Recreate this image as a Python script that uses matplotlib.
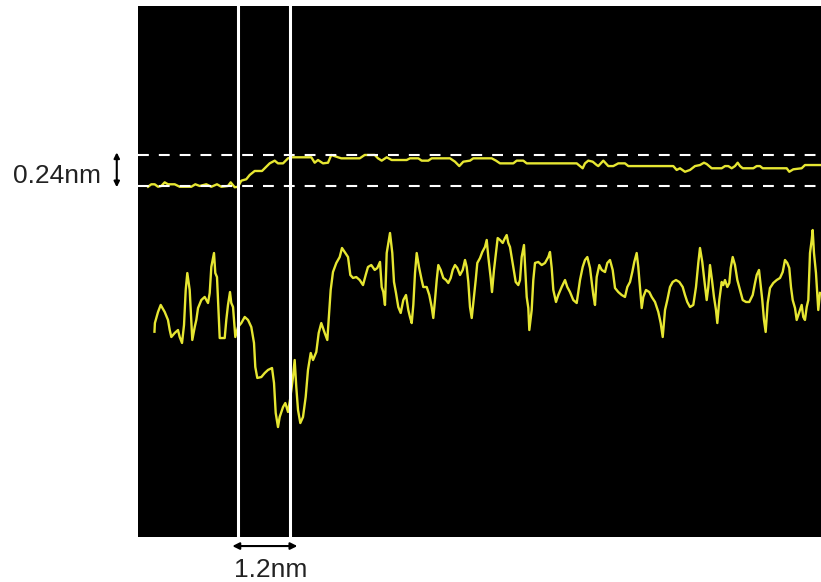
import numpy as np
import matplotlib.pyplot as plt

plt.rcParams['font.family'] = ['Liberation Sans', 'DejaVu Sans']

# surface profile (nm): lower trace = line scan, upper trace = height profile
scan_x = [0.38, 0.39, 0.462, 0.524, 0.616, 0.692, 0.732, 0.769, 0.847, 0.923, 0.962, 1.016, 1.062,
          1.101, 1.138, 1.193, 1.230, 1.253, 1.309, 1.346, 1.385, 1.461, 1.539, 1.616, 1.655, 1.692,
          1.754, 1.784, 1.823, 1.863, 1.886, 2.001, 2.038, 2.077, 2.123, 2.153, 2.193, 2.246, 2.308,
          2.384, 2.463, 2.539, 2.615, 2.677, 2.707, 2.753, 2.846, 2.924, 3.000, 3.093, 3.139, 3.178,
          3.231, 3.270, 3.347, 3.400, 3.462, 3.508, 3.577, 3.616, 3.653, 3.693, 3.746, 3.808, 3.870,
          3.923, 3.986, 4.039, 4.115, 4.170, 4.230, 4.309, 4.369, 4.401, 4.447, 4.500, 4.577, 4.655,
          4.708, 4.770, 4.847, 4.900, 4.962, 5.038, 5.117, 5.193, 5.255, 5.308, 5.384, 5.463, 5.523,
          5.585, 5.624, 5.661, 5.700, 5.740, 5.816, 5.869, 5.908, 5.954, 6.007, 6.063, 6.123, 6.185,
          6.238, 6.277, 6.317, 6.354, 6.393, 6.432, 6.485, 6.547, 6.584, 6.663, 6.723, 6.778, 6.815,
          6.854, 6.894, 6.931, 6.986, 7.046, 7.108, 7.161, 7.217, 7.263, 7.316, 7.369, 7.432, 7.494,
          7.547, 7.586, 7.623, 7.662, 7.702, 7.738, 7.794, 7.831, 7.893, 7.946, 8.008, 8.048, 8.085,
          8.140, 8.170, 8.216, 8.262, 8.301, 8.355, 8.417, 8.470, 8.509, 8.546, 8.585, 8.624, 8.661,
          8.717, 8.777, 8.816, 8.855, 8.908, 8.938, 8.971, 9.008, 9.031, 9.086, 9.123, 9.162, 9.238,
          9.317, 9.393, 9.469, 9.508, 9.548, 9.585, 9.647, 9.700, 9.778, 9.855, 9.908, 9.970, 10.046,
          10.125, 10.201, 10.263, 10.316, 10.370, 10.432, 10.508, 10.547, 10.586, 10.646, 10.702,
          10.778, 10.831, 10.893, 10.955, 11.009, 11.085, 11.163, 11.239, 11.293, 11.355, 11.408,
          11.454, 11.509, 11.546, 11.585, 11.625, 11.662, 11.724, 11.800, 11.856, 11.932, 12.008,
          12.063, 12.110, 12.163, 12.216, 12.278, 12.340, 12.416, 12.493, 12.571, 12.624, 12.677,
          12.740, 12.816, 12.878, 12.931, 12.970, 13.023, 13.070, 13.125, 13.162, 13.201, 13.247,
          13.293, 13.339, 13.370, 13.416, 13.471, 13.508, 13.547, 13.601, 13.647, 13.679, 13.725,
          13.778, 13.832, 13.894, 13.956, 14.032, 14.108, 14.187, 14.240, 14.279, 14.332, 14.371,
          14.408, 14.447, 14.486, 14.533, 14.586, 14.662, 14.740, 14.817, 14.879, 14.932, 14.985,
          15.031, 15.070, 15.110, 15.163, 15.202, 15.255, 15.317, 15.354, 15.393, 15.433, 15.470,
          15.509, 15.548, 15.571, 15.601, 15.647, 15.700, 15.739]
scan_y = [1.589, 1.656, 1.742, 1.796, 1.742, 1.680, 1.602, 1.548, 1.579, 1.602, 1.548, 1.502, 1.641,
          1.912, 2.043, 1.912, 1.680, 1.525, 1.625, 1.680, 1.772, 1.834, 1.858, 1.811, 1.889, 2.090,
          2.198, 2.043, 2.012, 1.703, 1.540, 1.540, 1.680, 1.796, 1.896, 1.811, 1.780, 1.548, 1.625,
          1.656, 1.703, 1.680, 1.625, 1.502, 1.316, 1.231, 1.238, 1.269, 1.293, 1.308, 1.192, 0.960,
          0.851, 0.929, 1.006, 1.037, 0.968, 1.060, 1.238, 1.370, 1.161, 0.983, 0.882, 0.929, 1.084,
          1.293, 1.424, 1.370, 1.432, 1.579, 1.656, 1.579, 1.525, 1.680, 1.912, 2.051, 2.121, 2.167,
          2.237, 2.206, 2.167, 2.028, 2.005, 2.012, 1.989, 1.950, 2.028, 2.090, 2.105, 2.067, 2.082,
          2.129, 1.935, 1.896, 1.796, 2.198, 2.353, 2.198, 1.974, 1.889, 1.780, 1.734, 1.834, 1.873,
          1.757, 1.703, 1.656, 1.796, 2.043, 2.198, 2.090, 1.989, 1.935, 1.935, 1.873, 1.780, 1.695,
          1.834, 1.989, 2.105, 2.067, 2.005, 1.989, 1.966, 2.005, 2.067, 2.105, 2.082, 2.028, 2.067,
          2.144, 2.090, 1.974, 1.780, 1.695, 1.811, 1.989, 2.121, 2.159, 2.206, 2.245, 2.299, 2.167,
          2.005, 1.896, 2.067, 2.198, 2.314, 2.299, 2.276, 2.314, 2.337, 2.276, 2.245, 2.167, 2.090,
          1.974, 1.950, 1.989, 2.167, 2.260, 2.067, 1.858, 1.772, 1.602, 1.757, 1.989, 2.121, 2.129,
          2.105, 2.121, 2.167, 2.206, 2.082, 1.912, 1.819, 1.873, 1.935, 1.989, 1.935, 1.896, 1.834,
          1.811, 1.989, 2.090, 2.144, 2.167, 2.082, 1.873, 1.796, 2.012, 2.105, 2.067,
          2.051, 2.121, 2.144, 2.067, 1.927, 1.896, 1.873, 1.858, 1.935, 1.974, 2.051,
          2.129, 2.198, 2.090, 1.935, 1.772, 1.858, 1.912, 1.896, 1.858, 1.819, 1.742,
          1.656, 1.548, 1.757, 1.834, 1.935, 1.974, 1.989, 1.974, 1.935, 1.873, 1.819,
          1.780, 1.796, 1.935, 2.121, 2.237, 2.129, 1.989, 1.834, 1.935, 2.105, 1.989,
          1.858, 1.757, 1.656, 1.834, 1.974, 1.950, 1.989, 1.935, 1.966, 2.082, 2.167,
          2.105, 1.989, 1.912, 1.834, 1.819, 1.819, 1.873, 1.966, 2.028, 2.067, 1.950,
          1.834, 1.680, 1.587, 1.811, 1.927, 1.966, 1.989, 2.005, 2.051, 2.144, 2.121,
          2.082, 1.935, 1.834, 1.772, 1.680, 1.734, 1.796, 1.703, 1.680, 1.780, 1.834,
          2.198, 2.299, 2.376, 2.198, 2.043, 1.757, 1.889]

step_x = [0.231, 0.307, 0.385, 0.462, 0.538, 0.616, 0.692, 0.847, 0.962, 1.230, 1.323, 1.424, 1.576,
          1.692, 1.823, 1.923, 2.077, 2.139, 2.232, 2.308, 2.384, 2.499, 2.578, 2.693, 2.862, 2.961,
          3.039, 3.155, 3.231, 3.347, 3.462, 3.538, 4.000, 4.078, 4.154, 4.270, 4.385, 4.461, 4.616,
          4.692, 5.117, 5.232, 5.463, 5.539, 5.624, 5.740, 5.855, 6.201, 6.277, 6.469, 6.547, 6.700,
          6.778, 7.201, 7.316, 7.415, 7.508, 7.662, 7.738, 8.163, 8.262, 8.355, 8.661, 8.740, 8.892,
          8.971, 10.125, 10.201, 10.263, 10.316, 10.392, 10.494, 10.586, 10.623, 10.739, 10.854,
          10.969, 11.085, 11.239, 11.316, 12.354, 12.432, 12.509, 12.624, 12.740, 12.855, 12.970,
          13.062, 13.125, 13.240, 13.471, 13.547, 13.623, 13.702, 13.778, 13.840, 13.894, 13.956,
          14.201, 14.279, 14.355, 14.417, 14.971, 15.031, 15.124, 15.317, 15.393, 15.739]
step_y = [2.711, 2.730, 2.730, 2.711, 2.717, 2.745, 2.730, 2.730, 2.711, 2.711, 2.730, 2.717, 2.730,
          2.711, 2.730, 2.711, 2.717, 2.745, 2.707, 2.711, 2.758, 2.769, 2.802, 2.833, 2.833, 2.866,
          2.892, 2.913, 2.892, 2.892, 2.931, 2.939, 2.939, 2.897, 2.918, 2.892, 2.897, 2.957, 2.939,
          2.931, 2.931, 2.957, 2.957, 2.931, 2.913, 2.939, 2.918, 2.918, 2.931, 2.931, 2.913, 2.913,
          2.931, 2.931, 2.905, 2.871, 2.905, 2.913, 2.931, 2.931, 2.913, 2.892, 2.892, 2.913, 2.913,
          2.892, 2.892, 2.871, 2.854, 2.892, 2.913, 2.905, 2.879, 2.871, 2.913, 2.871,
          2.871, 2.892, 2.892, 2.871, 2.871, 2.841, 2.854, 2.827, 2.841, 2.871, 2.879,
          2.897, 2.887, 2.854, 2.854, 2.871, 2.871, 2.854, 2.871, 2.897, 2.871, 2.854,
          2.854, 2.871, 2.871, 2.854, 2.854, 2.827, 2.846, 2.854, 2.879, 2.879]

edge_x = [2.308, 3.508]       # step edges, 1.2 nm apart
level_y = [2.717, 2.957]      # terrace heights, 0.24 nm apart

yellow = '#e6e632'

fig = plt.figure(figsize=(8.21, 5.82), dpi=100)
ax = fig.add_axes([138 / 821, 45 / 582, 683 / 821, 531 / 582])
ax.set_facecolor('black')
ax.set_xlim(0, 15.763)
ax.set_ylim(0, 4.110)
ax.set_xticks([])
ax.set_yticks([])
for s in ax.spines.values():
    s.set_visible(False)

ax.plot(scan_x, scan_y, color=yellow, lw=1.7)
ax.plot(step_x, step_y, color=yellow, lw=1.7)

for x in edge_x:
    ax.axvline(x, color='white', lw=2.2)
for y in level_y:
    ax.axhline(y, color='white', lw=1.5, linestyle=(0, (5.2, 4.8)))

# 1.2nm marker below the axes
ax.annotate('', xy=(edge_x[0] - 0.13, -0.07), xytext=(edge_x[1] + 0.17, -0.07),
            xycoords='data', annotation_clip=False,
            arrowprops=dict(arrowstyle='<|-|>', color='black', lw=1.5, mutation_scale=10,
                            shrinkA=0, shrinkB=0))
ax.text(3.07, -0.255, '1.2nm', ha='center', va='center', fontsize=19,
        color='#222222', clip_on=False)

# 0.24nm marker left of the axes
ax.annotate('', xy=(-0.49, level_y[1] + 0.02), xytext=(-0.49, level_y[0] - 0.01),
            annotation_clip=False,
            arrowprops=dict(arrowstyle='<|-|>', color='black', lw=1.5, mutation_scale=8,
                            shrinkA=0, shrinkB=0))
ax.text(-1.87, np.mean(level_y) - 0.04, '0.24nm', ha='center', va='center', fontsize=19,
        color='#222222', clip_on=False)

fig.savefig('out.png', dpi=100)
